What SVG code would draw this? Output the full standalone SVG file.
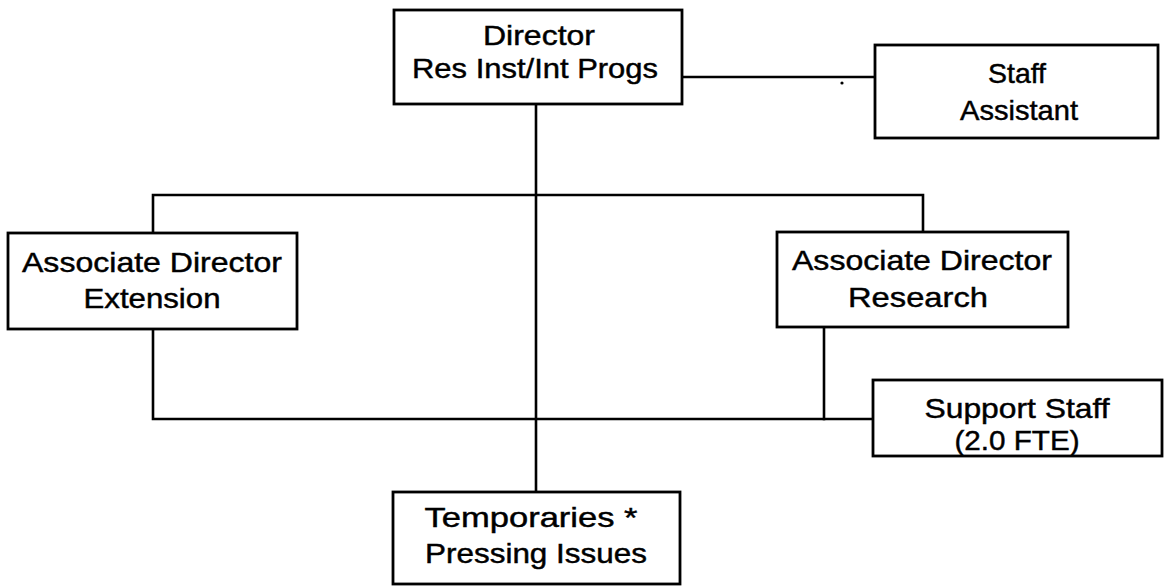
<svg xmlns="http://www.w3.org/2000/svg" width="1168" height="586" viewBox="0 0 1168 586">
  <style>
    .box { fill: #fff; stroke: #000; stroke-width: 2.8; }
    .wire { fill: none; stroke: #000; stroke-width: 2.6; stroke-linecap: square; }
    .lbl { font-family: "Liberation Sans", Arial, sans-serif; font-size: 28px; fill: #000; stroke: #000; stroke-width: 0.45; text-anchor: middle; }
  </style>
  <rect width="1168" height="586" fill="#fff"/>

  <!-- connectors -->
  <g id="connectors">
    <!-- director to staff assistant -->
    <line class="wire" x1="682" y1="77" x2="875" y2="77"/>
    <!-- main vertical trunk -->
    <line class="wire" x1="536" y1="104" x2="536" y2="492"/>
    <!-- upper branch to associate directors -->
    <polyline class="wire" points="153,233 153,195 923,195 923,232"/>
    <!-- lower branch to support staff -->
    <polyline class="wire" points="153,329 153,419 873,419"/>
    <line class="wire" x1="824" y1="327" x2="824" y2="419"/>
    <circle cx="842" cy="83" r="1.6" fill="#000"/>
  </g>

  <g id="director">
    <rect class="box" x="394" y="10" width="288" height="94"/>
    <text class="lbl" x="539" y="45" textLength="112" lengthAdjust="spacingAndGlyphs">Director</text>
    <text class="lbl" x="535" y="78" textLength="246" lengthAdjust="spacingAndGlyphs">Res Inst/Int Progs</text>
  </g>

  <g id="staff-assistant">
    <rect class="box" x="875" y="45" width="283" height="93"/>
    <text class="lbl" x="1017" y="83" textLength="58" lengthAdjust="spacingAndGlyphs">Staff</text>
    <text class="lbl" x="1019" y="120" textLength="118" lengthAdjust="spacingAndGlyphs">Assistant</text>
  </g>

  <g id="assoc-extension">
    <rect class="box" x="8" y="233" width="289" height="96"/>
    <text class="lbl" x="152" y="272" textLength="260" lengthAdjust="spacingAndGlyphs">Associate Director</text>
    <text class="lbl" x="152" y="308" textLength="137" lengthAdjust="spacingAndGlyphs">Extension</text>
  </g>

  <g id="assoc-research">
    <rect class="box" x="777" y="232" width="291" height="95"/>
    <text class="lbl" x="922" y="270" textLength="260" lengthAdjust="spacingAndGlyphs">Associate Director</text>
    <text class="lbl" x="918" y="307" textLength="140" lengthAdjust="spacingAndGlyphs">Research</text>
  </g>

  <g id="support-staff">
    <rect class="box" x="873" y="380" width="289" height="76"/>
    <text class="lbl" x="1017" y="418" textLength="185" lengthAdjust="spacingAndGlyphs">Support Staff</text>
    <text class="lbl" x="1017" y="450" textLength="125" lengthAdjust="spacingAndGlyphs">(2.0 FTE)</text>
  </g>

  <g id="temporaries">
    <rect class="box" x="393" y="492" width="287" height="92"/>
    <text class="lbl" x="531" y="527" textLength="213" lengthAdjust="spacingAndGlyphs">Temporaries *</text>
    <text class="lbl" x="536" y="563" textLength="222" lengthAdjust="spacingAndGlyphs">Pressing Issues</text>
  </g>
</svg>
